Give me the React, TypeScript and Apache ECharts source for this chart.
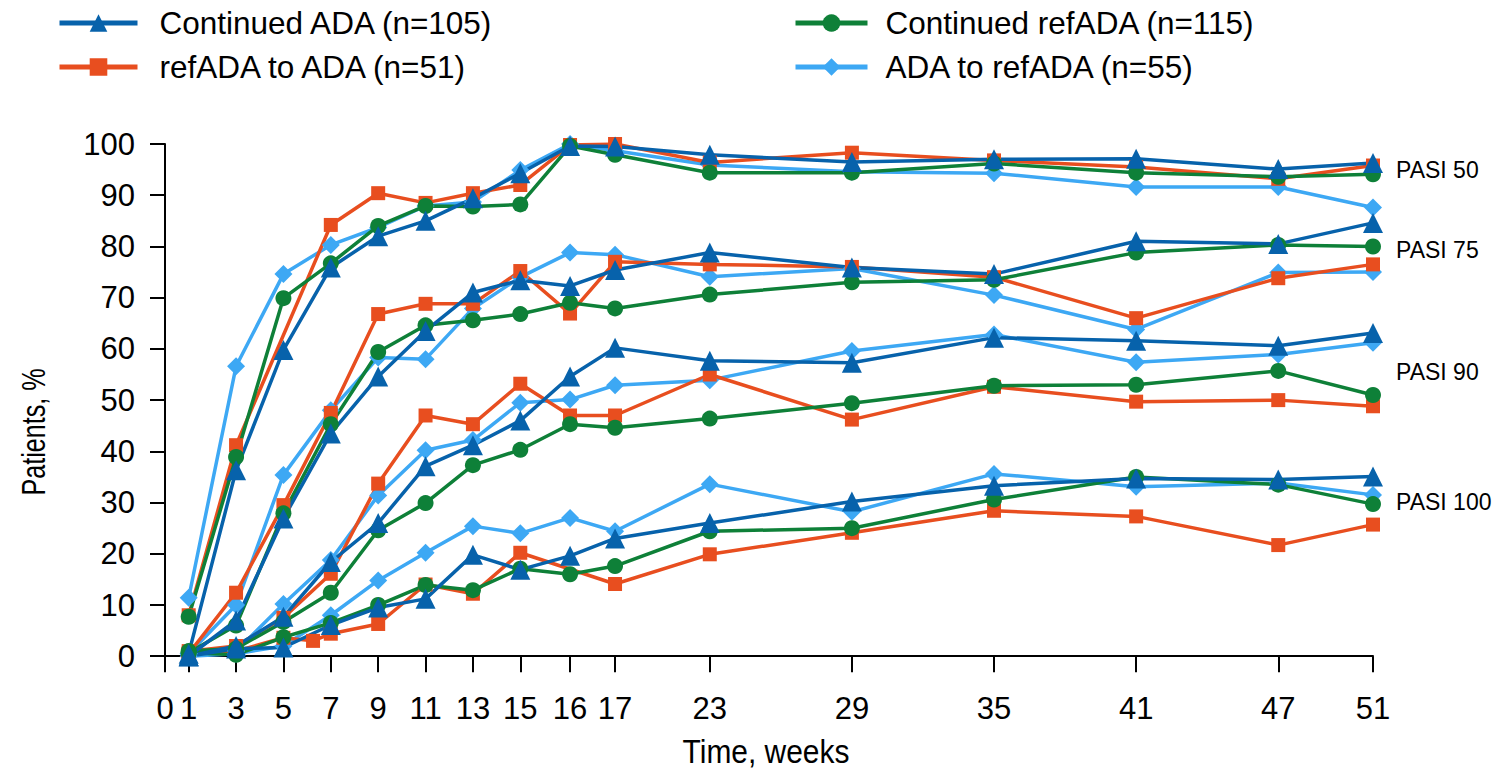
import React, { useEffect, useRef } from "react";
import * as echarts from "echarts";

// Axis tick labels (weeks) and their positions on the (slightly irregular) time axis
const tickWeeks = [0, 1, 3, 5, 7, 9, 11, 13, 15, 16, 17, 23, 29, 35, 41, 47, 51];
const tickPos = [0, 1, 3, 5, 7, 9, 11, 13, 15, 17.1, 19, 23, 29, 35, 41, 47, 51];
const yTicks = [0, 10, 20, 30, 40, 50, 60, 70, 80, 90, 100];

// Visit weeks of the data and their axis positions
const dataWeeks = [1, 3, 5, 6, 7, 9, 11, 13, 15, 16, 17, 23, 29, 35, 41, 47, 51];
const dataPos = [1, 3, 5, 6.25, 7, 9, 11, 13, 15, 17.1, 19, 23, 29, 35, 41, 47, 51];

// Continued ADA (n=105)
const contAda50 = [0.5, 36.3, 59.8, null, 75.9, 82.0, 85.0, 89.4, 94.3, 99.6, 99.5, 97.9, 96.5, 97.0, 97.1, 95.1, 96.3];
const contAda75 = [0, 7.0, 26.9, null, 43.5, 54.6, 63.5, 71.0, 73.4, 72.3, 75.4, 78.8, 75.9, 74.6, 81.0, 80.5, 84.6];
const contAda90 = [0, 2.0, 7.7, null, 18.4, 26.0, 37.1, 41.2, 46.0, 54.6, 60.2, 57.7, 57.3, 62.2, 61.6, 60.6, 63.1];
const contAda100 = [0, 1.5, 1.7, null, 6.1, 9.5, 11.2, 19.8, 16.9, 19.6, 23.0, 26.0, 30.2, 33.3, 34.7, 34.5, 35.1];

// refADA to ADA (n=51)
const refAda50 = [8.0, 41.2, null, null, 84.2, 90.4, 88.5, 90.4, 92.0, 99.8, 100, 96.4, 98.3, 96.8, 95.5, 93.2, 95.8];
const refAda75 = [0.5, 12.4, 29.5, null, 47.5, 66.8, 68.8, 68.8, 75.2, 66.9, 77.0, 76.5, 76.0, 74.0, 66.0, 73.8, 76.5];
const refAda90 = [1.0, 2.0, 7.5, null, 16.1, 33.7, 47.0, 45.3, 53.2, 47.0, 47.0, 55.0, 46.2, 52.6, 49.7, 50.0, 48.8];
const refAda100 = [0.5, 1.0, 3.6, 3.0, 4.4, 6.3, 14.0, 12.2, 20.2, null, 14.1, 19.9, 24.1, 28.4, 27.3, 21.7, 25.7];

// Continued refADA (n=115)
const contRef50 = [7.7, 38.9, 69.9, null, 76.7, 84.0, 87.9, 87.8, 88.2, 99.6, 97.9, 94.4, 94.4, 96.2, 94.4, 93.6, 94.1];
const contRef75 = [0.7, 6.0, 27.9, null, 45.3, 59.4, 64.6, 65.6, 66.8, 69.0, 67.9, 70.6, 73.0, 73.5, 78.8, 80.3, 80.0];
const contRef90 = [1.0, 1.5, 6.7, null, 12.4, 24.6, 29.9, 37.3, 40.3, 45.3, 44.6, 46.4, 49.4, 52.8, 53.0, 55.7, 51.0];
const contRef100 = [0.7, 0.3, 3.7, null, 6.5, 10.0, 13.9, 12.9, 17.1, 16.0, 17.6, 24.4, 25.0, 30.6, 35.0, 33.5, 29.7];

// ADA to refADA (n=55)
const adaRef50 = [11.4, 56.6, 74.6, null, 80.3, 83.7, 87.9, 88.7, 94.9, 100, 98.7, 95.9, 94.6, 94.3, 91.6, 91.6, 87.6];
const adaRef75 = [0.5, 10.0, 35.4, null, 48.0, 58.3, 58.0, 67.9, 74.0, 78.8, 78.4, 74.1, 75.7, 70.5, 63.8, 74.9, 75.0];
const adaRef90 = [0.5, 1.0, 10.2, null, 18.8, 31.4, 40.2, 42.2, 49.5, 50.1, 52.9, 53.9, 59.6, 62.8, 57.4, 58.9, 61.2];
const adaRef100 = [0, 0.5, 2.0, null, 8.0, 14.8, 20.2, 25.4, 24.0, 27.0, 24.4, 33.6, 28.2, 35.6, 33.1, 33.8, 31.5];

const pasiLabels = ["PASI 50", "PASI 75", "PASI 90", "PASI 100"];

const arms = [
  { name: "ADA to refADA (n=55)", color: "#3DA8F4", symbol: "diamond", size: 18, lines: [adaRef50, adaRef75, adaRef90, adaRef100] },
  { name: "refADA to ADA (n=51)", color: "#E84E1F", symbol: "rect", size: 14, lines: [refAda50, refAda75, refAda90, refAda100] },
  { name: "Continued refADA (n=115)", color: "#0E8038", symbol: "circle", size: 16, lines: [contRef50, contRef75, contRef90, contRef100] },
  { name: "Continued ADA (n=105)", color: "#0762AB", symbol: "triangle", size: 20, lines: [contAda50, contAda75, contAda90, contAda100] },
];

const FONT = "'Liberation Sans', Arial, sans-serif";

export default function App() {
  const ref = useRef<HTMLDivElement>(null);
  useEffect(() => {
    document.body.style.margin = "0";
    if (!ref.current) return;
    const chart = echarts.init(ref.current, null, { renderer: "svg" });
    const series: any[] = [];
    arms.forEach((arm) => {
      arm.lines.forEach((vals) => {
        const data: any[] = [];
        vals.forEach((v, i) => {
          if (v !== null) data.push([dataPos[i], v, dataWeeks[i]]);
        });
        series.push({
          name: arm.name,
          type: "line",
          data,
          symbol: arm.symbol,
          symbolSize: arm.size,
          showAllSymbol: true,
          itemStyle: { color: arm.color },
          lineStyle: { color: arm.color, width: 3.5 },
          emphasis: { disabled: true },
        });
      });
    });
    const legendCommon = {
      orient: "vertical",
      itemHeight: 22,
      itemGap: 4,
      padding: 0,
      lineStyle: { width: 5 },
      selectedMode: false,
    };
    chart.setOption({
      animation: false,
      legend: [
        {
          ...legendCommon,
          left: 57,
          top: 3,
          itemWidth: 78,
          textStyle: { fontFamily: FONT, fontSize: 31.5, color: "#000", lineHeight: 40, padding: [0, 0, 0, 17] },
          data: ["Continued ADA (n=105)", "refADA to ADA (n=51)"],
        },
        {
          ...legendCommon,
          left: 793,
          top: 3,
          itemWidth: 72,
          textStyle: { fontFamily: FONT, fontSize: 31.5, color: "#000", lineHeight: 40, padding: [0, 0, 0, 13] },
          data: ["Continued refADA (n=115)", "ADA to refADA (n=55)"],
        },
      ],
      grid: { left: 156, right: 123, top: 144, bottom: 105 },
      xAxis: {
        type: "value",
        min: -0.38,
        max: 51,
        axisLine: { show: true, lineStyle: { color: "#000", width: 2 } },
        axisTick: { show: true, length: 16, lineStyle: { color: "#000", width: 2 }, customValues: tickPos },
        axisLabel: {
          customValues: tickPos,
          margin: 26,
          fontFamily: FONT,
          fontSize: 31,
          color: "#000",
          formatter: (v: number) => {
            const i = tickPos.findIndex((p) => Math.abs(p - v) < 1e-6);
            return i >= 0 ? String(tickWeeks[i]) : "";
          },
        },
        splitLine: { show: false },
      },
      yAxis: {
        type: "value",
        min: -2.1,
        max: 100,
        axisLine: { show: true, lineStyle: { color: "#000", width: 2 } },
        axisTick: { show: true, length: 15, lineStyle: { color: "#000", width: 2 }, customValues: yTicks },
        axisLabel: { customValues: yTicks, margin: 21, fontFamily: FONT, fontSize: 31, color: "#000" },
        splitLine: { show: false },
      },
      graphic: [
        { type: "text", x: 766, y: 751, scaleX: 0.88, style: { text: "Time, weeks", fontFamily: FONT, fontSize: 34, fill: "#000", align: "center", verticalAlign: "middle" } },
        { type: "text", x: 33, y: 432, rotation: Math.PI / 2, scaleX: 0.74, style: { text: "Patients, %", fontFamily: FONT, fontSize: 34, fill: "#000", align: "center", verticalAlign: "middle" } },
        { type: "text", x: 1396, y: 170, style: { text: pasiLabels[0], fontFamily: FONT, fontSize: 23, fill: "#000", verticalAlign: "middle" } },
        { type: "text", x: 1396, y: 250, style: { text: pasiLabels[1], fontFamily: FONT, fontSize: 23, fill: "#000", verticalAlign: "middle" } },
        { type: "text", x: 1396, y: 372, style: { text: pasiLabels[2], fontFamily: FONT, fontSize: 23, fill: "#000", verticalAlign: "middle" } },
        { type: "text", x: 1396, y: 502, style: { text: pasiLabels[3], fontFamily: FONT, fontSize: 23, fill: "#000", verticalAlign: "middle" } },
      ],
      series,
    });
    return () => chart.dispose();
  }, []);
  return <div ref={ref} style={{ width: 1496, height: 772 }} />;
}
